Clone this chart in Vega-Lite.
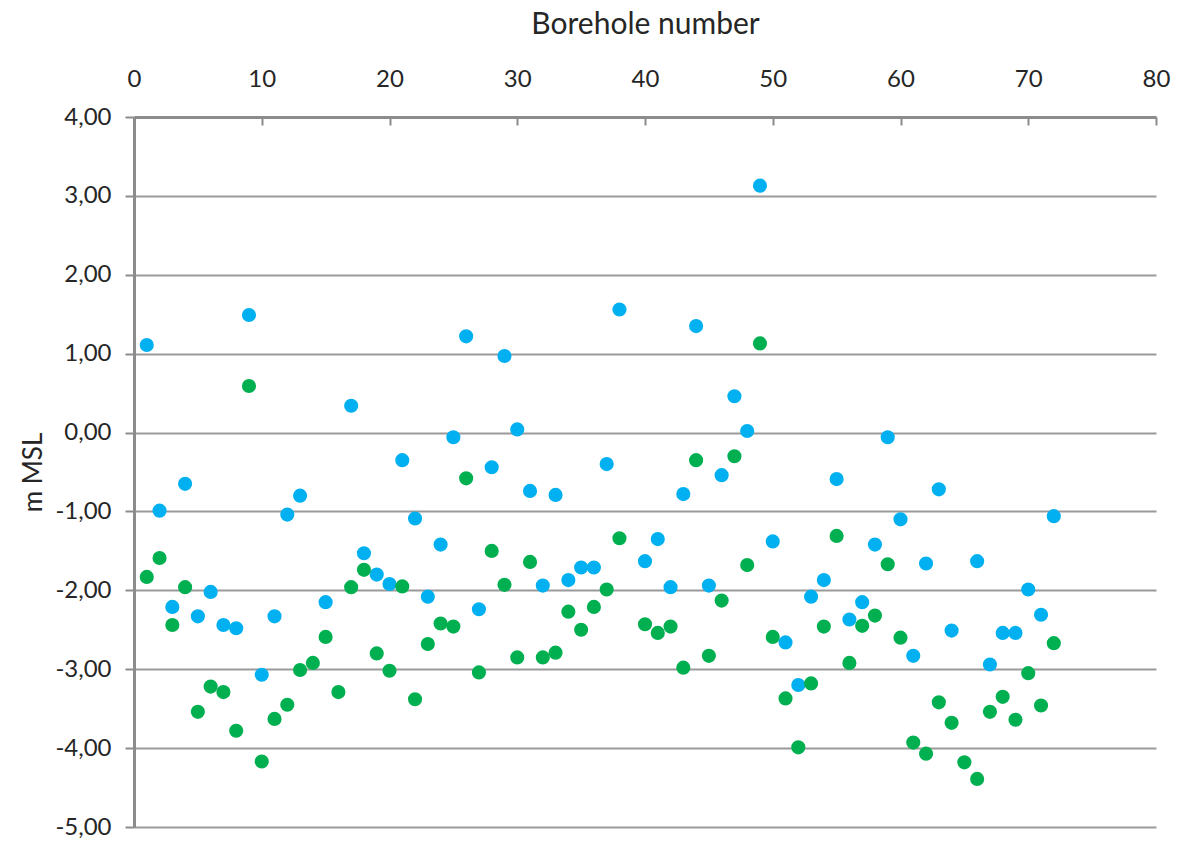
{
  "$schema": "https://vega.github.io/schema/vega-lite/v6.json",
  "autosize": {"type": "none"},
  "width": 1022,
  "height": 710,
  "padding": {"left": 134, "top": 117, "right": 43, "bottom": 15},
  "background": "white",
  "config": {
    "locale": {"number": {"decimal": ",", "thousands": ".", "grouping": [3], "currency": ["", " €"], "minus": "-"}},
    "view": {"stroke": null},
    "font": "Lato",
    "axis": {
      "labelFont": "Lato",
      "labelFontSize": 24,
      "labelColor": "#262626",
      "labelFlush": false,
      "titleFont": "Lato",
      "titleFontSize": 30,
      "titleFontWeight": "normal",
      "titleColor": "#262626",
      "domainColor": "#8c8c8c",
      "domainWidth": 3,
      "tickColor": "#8c8c8c",
      "tickWidth": 2,
      "gridColor": "#9a9a9a",
      "gridWidth": 2
    }
  },
  "data": {
    "values": [
      {"borehole": 1, "level1": 1.11, "level2": -1.83},
      {"borehole": 2, "level1": -0.99, "level2": -1.59},
      {"borehole": 3, "level1": -2.21, "level2": -2.44},
      {"borehole": 4, "level1": -0.65, "level2": -1.96},
      {"borehole": 5, "level1": -2.33, "level2": -3.54},
      {"borehole": 6, "level1": -2.02, "level2": -3.22},
      {"borehole": 7, "level1": -2.44, "level2": -3.29},
      {"borehole": 8, "level1": -2.48, "level2": -3.78},
      {"borehole": 9, "level1": 1.49, "level2": 0.59},
      {"borehole": 10, "level1": -3.07, "level2": -4.17},
      {"borehole": 11, "level1": -2.33, "level2": -3.63},
      {"borehole": 12, "level1": -1.04, "level2": -3.45},
      {"borehole": 13, "level1": -0.80, "level2": -3.01},
      {"borehole": 14, "level1": null, "level2": -2.92},
      {"borehole": 15, "level1": -2.15, "level2": -2.59},
      {"borehole": 16, "level1": null, "level2": -3.29},
      {"borehole": 17, "level1": 0.34, "level2": -1.96},
      {"borehole": 18, "level1": -1.53, "level2": -1.74},
      {"borehole": 19, "level1": -1.80, "level2": -2.80},
      {"borehole": 20, "level1": -1.92, "level2": -3.02},
      {"borehole": 21, "level1": -0.35, "level2": -1.95},
      {"borehole": 22, "level1": -1.09, "level2": -3.38},
      {"borehole": 23, "level1": -2.08, "level2": -2.68},
      {"borehole": 24, "level1": -1.42, "level2": -2.42},
      {"borehole": 25, "level1": -0.06, "level2": -2.46},
      {"borehole": 26, "level1": 1.22, "level2": -0.58},
      {"borehole": 27, "level1": -2.24, "level2": -3.04},
      {"borehole": 28, "level1": -0.44, "level2": -1.50},
      {"borehole": 29, "level1": 0.97, "level2": -1.93},
      {"borehole": 30, "level1": 0.04, "level2": -2.85},
      {"borehole": 31, "level1": -0.74, "level2": -1.64},
      {"borehole": 32, "level1": -1.94, "level2": -2.85},
      {"borehole": 33, "level1": -0.79, "level2": -2.79},
      {"borehole": 34, "level1": -1.87, "level2": -2.27},
      {"borehole": 35, "level1": -1.71, "level2": -2.50},
      {"borehole": 36, "level1": -1.71, "level2": -2.21},
      {"borehole": 37, "level1": -0.40, "level2": -1.99},
      {"borehole": 38, "level1": 1.56, "level2": -1.34},
      {"borehole": 40, "level1": -1.63, "level2": -2.43},
      {"borehole": 41, "level1": -1.35, "level2": -2.54},
      {"borehole": 42, "level1": -1.96, "level2": -2.46},
      {"borehole": 43, "level1": -0.78, "level2": -2.98},
      {"borehole": 44, "level1": 1.35, "level2": -0.35},
      {"borehole": 45, "level1": -1.94, "level2": -2.83},
      {"borehole": 46, "level1": -0.54, "level2": -2.13},
      {"borehole": 47, "level1": 0.46, "level2": -0.30},
      {"borehole": 48, "level1": 0.02, "level2": -1.68},
      {"borehole": 49, "level1": 3.13, "level2": 1.13},
      {"borehole": 50, "level1": -1.38, "level2": -2.59},
      {"borehole": 51, "level1": -2.66, "level2": -3.37},
      {"borehole": 52, "level1": -3.20, "level2": -3.99},
      {"borehole": 53, "level1": -2.08, "level2": -3.18},
      {"borehole": 54, "level1": -1.87, "level2": -2.46},
      {"borehole": 55, "level1": -0.59, "level2": -1.31},
      {"borehole": 56, "level1": -2.37, "level2": -2.92},
      {"borehole": 57, "level1": -2.15, "level2": -2.45},
      {"borehole": 58, "level1": -1.42, "level2": -2.32},
      {"borehole": 59, "level1": -0.06, "level2": -1.67},
      {"borehole": 60, "level1": -1.10, "level2": -2.60},
      {"borehole": 61, "level1": -2.83, "level2": -3.93},
      {"borehole": 62, "level1": -1.66, "level2": -4.07},
      {"borehole": 63, "level1": -0.72, "level2": -3.42},
      {"borehole": 64, "level1": -2.51, "level2": -3.68},
      {"borehole": 65, "level1": null, "level2": -4.18},
      {"borehole": 66, "level1": -1.63, "level2": -4.39},
      {"borehole": 67, "level1": -2.94, "level2": -3.54},
      {"borehole": 68, "level1": -2.54, "level2": -3.35},
      {"borehole": 69, "level1": -2.54, "level2": -3.64},
      {"borehole": 70, "level1": -1.99, "level2": -3.05},
      {"borehole": 71, "level1": -2.31, "level2": -3.46},
      {"borehole": 72, "level1": -1.06, "level2": -2.67}
    ]
  },
  "encoding": {
    "x": {
      "field": "borehole",
      "type": "quantitative",
      "scale": {"domain": [0, 80], "nice": false},
      "axis": {
        "orient": "top",
        "title": "Borehole number",
        "values": [0, 10, 20, 30, 40, 50, 60, 70, 80],
        "grid": false,
        "tickSize": -8,
        "labelPadding": 34,
        "titlePadding": 28
      }
    }
  },
  "layer": [
    {
      "mark": {"type": "point", "shape": "circle", "filled": true, "opacity": 1, "size": 200, "color": "#00B0F0"},
      "encoding": {
        "y": {
          "field": "level1",
          "type": "quantitative",
          "scale": {"domain": [-5, 4], "nice": false, "zero": false},
          "axis": {
            "title": "m MSL",
            "titleFontSize": 26,
            "values": [-5, -4, -3, -2, -1, 0, 1, 2, 3, 4],
            "format": ".2f",
            "grid": true,
            "tickSize": 9,
            "labelPadding": 14,
            "titlePadding": 8
          }
        }
      }
    },
    {
      "mark": {"type": "point", "shape": "circle", "filled": true, "opacity": 1, "size": 200, "color": "#00B050"},
      "encoding": {
        "y": {"field": "level2", "type": "quantitative"}
      }
    }
  ]
}
